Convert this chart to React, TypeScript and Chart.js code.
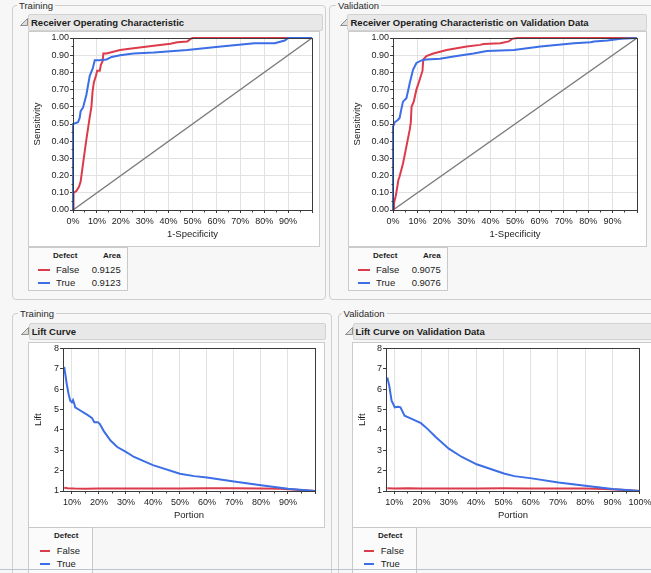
import React, { useEffect, useRef } from 'react';
import { Chart, registerables } from 'chart.js';

Chart.register(...registerables);

const RED = '#dc3b4b';
const BLUE = '#3c6ee6';
const DIAG = '#7b7b7b';
const GRID = '#e2e2e2';
const AXIS = '#3a3a3a';
const TXT = '#1c1c1c';
const BG = '#f7f7f7';
const FONT = '"Liberation Sans", Arial, Helvetica, sans-serif';

// ---- tick values ----
const rocTicks = [0, 0.1, 0.2, 0.3, 0.4, 0.5, 0.6, 0.7, 0.8, 0.9, 1];
const liftXTicks = [0.1, 0.2, 0.3, 0.4, 0.5, 0.6, 0.7, 0.8, 0.9, 1];
const liftYTicks = [1, 2, 3, 4, 5, 6, 7, 8];

// ---- legend ----
const classes = ['False', 'True'];
const trainArea = ['0.9125', '0.9123'];
const validArea = ['0.9075', '0.9076'];

// ---- reference diagonal ----
const diagX = [0, 1];
const diagY = [0, 1];

// ---- Training ROC ----
const trRocFalseX = [0, 0.002, 0.014, 0.025, 0.032, 0.042, 0.056, 0.07, 0.077, 0.082, 0.087, 0.096, 0.101, 0.112, 0.117, 0.124, 0.127, 0.14, 0.197, 0.253, 0.338, 0.408, 0.436, 0.478, 0.492, 0.5, 1.0];
const trRocFalseY = [0, 0.1, 0.11, 0.135, 0.165, 0.27, 0.41, 0.54, 0.6, 0.69, 0.74, 0.78, 0.81, 0.81, 0.845, 0.865, 0.91, 0.91, 0.93, 0.94, 0.955, 0.967, 0.975, 0.98, 0.995, 1.0, 1.0];
const trRocTrueX = [0, 0, 0.021, 0.028, 0.032, 0.042, 0.056, 0.07, 0.082, 0.091, 0.112, 0.14, 0.162, 0.197, 0.253, 0.338, 0.478, 0.619, 0.759, 0.844, 0.886, 0.9, 1.0];
const trRocTrueY = [0, 0.5, 0.51, 0.535, 0.575, 0.595, 0.67, 0.78, 0.82, 0.87, 0.87, 0.875, 0.89, 0.9, 0.91, 0.915, 0.93, 0.95, 0.97, 0.97, 0.985, 1.0, 1.0];

// ---- Validation ROC ----
const vaRocFalseX = [0, 0.004, 0.011, 0.016, 0.022, 0.027, 0.041, 0.055, 0.069, 0.073, 0.076, 0.085, 0.096, 0.11, 0.121, 0.124, 0.137, 0.165, 0.22, 0.302, 0.357, 0.371, 0.44, 0.474, 0.488, 0.508, 1.0];
const vaRocFalseY = [0, 0.04, 0.08, 0.12, 0.175, 0.195, 0.27, 0.37, 0.47, 0.51, 0.6, 0.63, 0.7, 0.76, 0.81, 0.875, 0.895, 0.91, 0.93, 0.95, 0.96, 0.965, 0.97, 0.98, 0.995, 1.0, 1.0];
const vaRocTrueX = [0, 0, 0.007, 0.021, 0.027, 0.034, 0.041, 0.055, 0.069, 0.082, 0.096, 0.117, 0.137, 0.192, 0.261, 0.33, 0.385, 0.495, 0.604, 0.742, 0.81, 0.824, 0.879, 0.934, 1.0];
const vaRocTrueY = [0, 0.485, 0.51, 0.525, 0.535, 0.585, 0.63, 0.65, 0.74, 0.815, 0.855, 0.87, 0.875, 0.88, 0.895, 0.91, 0.925, 0.93, 0.95, 0.97, 0.975, 0.98, 0.985, 0.995, 1.0];

// ---- Training lift ----
const trLiftTrueX = [0.0715, 0.081, 0.0876, 0.0938, 0.1, 0.104, 0.109, 0.112, 0.125, 0.156, 0.174, 0.183, 0.196, 0.203, 0.218, 0.243, 0.268, 0.3, 0.33, 0.4, 0.5, 0.553, 0.6, 0.7, 0.8, 0.9, 1.0];
const trLiftTrueY = [7.09, 6.24, 5.76, 5.43, 5.35, 5.46, 5.27, 5.11, 5.0, 4.75, 4.59, 4.38, 4.38, 4.3, 3.94, 3.48, 3.16, 2.92, 2.67, 2.27, 1.85, 1.73, 1.66, 1.47, 1.28, 1.11, 1.0];
const trLiftFalseX = [0.0715, 0.085, 0.11, 0.15, 0.2, 0.3, 0.4, 0.5, 0.6, 0.7, 0.8, 0.87, 0.93, 1.0];
const trLiftFalseY = [1.16, 1.14, 1.12, 1.11, 1.12, 1.12, 1.12, 1.12, 1.13, 1.13, 1.12, 1.11, 1.06, 1.0];

// ---- Validation lift ----
const vaLiftTrueX = [0.0748, 0.082, 0.0904, 0.0964, 0.102, 0.114, 0.123, 0.132, 0.138, 0.156, 0.198, 0.222, 0.252, 0.3, 0.348, 0.402, 0.502, 0.54, 0.604, 0.702, 0.8, 0.9, 1.0];
const vaLiftTrueY = [6.57, 6.16, 5.43, 5.27, 5.11, 5.14, 5.11, 4.86, 4.7, 4.59, 4.33, 4.05, 3.65, 3.08, 2.67, 2.31, 1.86, 1.73, 1.62, 1.42, 1.26, 1.1, 1.0];
const vaLiftFalseX = [0.0748, 0.1, 0.15, 0.2, 0.3, 0.4, 0.5, 0.6, 0.7, 0.8, 0.87, 0.93, 1.0];
const vaLiftFalseY = [1.13, 1.12, 1.13, 1.12, 1.12, 1.12, 1.13, 1.12, 1.12, 1.12, 1.1, 1.06, 1.0];

const pct = (v: number) => Math.round(v * 100) + '%';
const pctNo100 = (v: number) => (v >= 0.999 ? '' : pct(v));
const fix2 = (v: number) => v.toFixed(2);
const int = (v: number) => String(Math.round(v));

const frameBox = {
  id: 'frameBox',
  afterDatasetsDraw(chart: any, _a: any, opts: any) {
    const { ctx, chartArea: a, scales } = chart;
    const al = (p: number) => Math.round(p - 0.5) + 0.5;
    const l = al(a.left), r = al(a.right), t = al(a.top), b = al(a.bottom);
    ctx.save();
    ctx.strokeStyle = AXIS;
    ctx.lineWidth = 1;
    ctx.beginPath();
    const minor = (id: string, step?: number) => {
      if (!step) return;
      const sc = scales[id];
      const k0 = Math.ceil(sc.min / step - 1e-6);
      const k1 = Math.floor(sc.max / step + 1e-6);
      for (let k = k0; k <= k1; k++) {
        const v = k * step;
        if (sc.ticks.some((tk: any) => Math.abs(tk.value - v) < 1e-6)) continue;
        const p = al(sc.getPixelForValue(v));
        if (id === 'x') { ctx.moveTo(p, b); ctx.lineTo(p, b + 2); }
        else { ctx.moveTo(l, p); ctx.lineTo(l - 2, p); }
      }
    };
    minor('x', opts && opts.xMinor);
    minor('y', opts && opts.yMinor);
    ctx.stroke();
    ctx.strokeRect(l, t, r - l, b - t);
    ctx.restore();
  },
};

type Series = { x: number[]; y: number[]; color: string; width: number };
type Spec = {
  left: number; top: number; w: number; h: number;
  plot: { l: number; t: number; r: number; b: number };
  series: Series[];
  xMin: number; xMax: number; yMin: number; yMax: number;
  xTicks: number[]; yTicks: number[];
  xFmt: (v: number) => string; yFmt: (v: number) => string;
  xTitle: string; yTitle: string;
  xTitlePad: number; yTitlePad: number;
  hGrid: boolean; xMinor?: number; yMinor?: number;
};

function PlotCanvas({ spec }: { spec: Spec }) {
  const ref = useRef<HTMLCanvasElement>(null);
  useEffect(() => {
    const s = spec;
    const tickFont = { family: FONT, size: 9 };
    const titleFont = { family: FONT, size: 9.5 };
    const chart = new Chart(ref.current as HTMLCanvasElement, {
      type: 'scatter',
      data: {
        datasets: s.series.map((se) => ({
          data: se.x.map((x, i) => ({ x, y: se.y[i] })),
          showLine: true,
          borderColor: se.color,
          backgroundColor: se.color,
          borderWidth: se.width,
          pointRadius: 0,
          pointHoverRadius: 0,
          tension: 0,
          fill: false,
          clip: 4,
        })),
      },
      options: {
        animation: false,
        responsive: false,
        maintainAspectRatio: false,
        events: [],
        layout: { padding: { left: 0, top: s.plot.t, right: s.w - s.plot.r, bottom: 0 } },
        plugins: {
          legend: { display: false },
          tooltip: { enabled: false },
          frameBox: { xMinor: s.xMinor, yMinor: s.yMinor },
        } as any,
        scales: {
          x: {
            type: 'linear',
            position: 'bottom',
            min: s.xMin,
            max: s.xMax,
            afterBuildTicks: (sc: any) => { sc.ticks = s.xTicks.map((v) => ({ value: v })); },
            afterFit: (sc: any) => { sc.height = s.h - s.plot.b; },
            grid: { display: true, drawOnChartArea: true, color: GRID, tickColor: AXIS, tickLength: 3, lineWidth: 1 },
            border: { display: false },
            ticks: { callback: (v: any) => s.xFmt(Number(v)), font: tickFont, color: TXT, padding: 3.6, maxRotation: 0, minRotation: 0, autoSkip: false },
            title: { display: true, text: s.xTitle, font: titleFont, color: TXT, padding: { top: 0, bottom: s.xTitlePad } },
          },
          y: {
            type: 'linear',
            position: 'left',
            min: s.yMin,
            max: s.yMax,
            afterBuildTicks: (sc: any) => { sc.ticks = s.yTicks.map((v) => ({ value: v })); },
            afterFit: (sc: any) => { sc.width = s.plot.l; },
            grid: { display: true, drawOnChartArea: s.hGrid, color: GRID, tickColor: AXIS, tickLength: 3, lineWidth: 1 },
            border: { display: false },
            ticks: { callback: (v: any) => s.yFmt(Number(v)), font: tickFont, color: TXT, padding: 1, autoSkip: false },
            title: { display: true, text: s.yTitle, font: titleFont, color: TXT, padding: { top: s.yTitlePad, bottom: 0 } },
          },
        },
      } as any,
      plugins: [frameBox],
    });
    return () => chart.destroy();
  }, []);
  return (
    <canvas
      ref={ref}
      width={spec.w}
      height={spec.h}
      style={{ position: 'absolute', left: spec.left, top: spec.top, width: spec.w, height: spec.h }}
    />
  );
}

const rocSeries = (fx: number[], fy: number[], tx: number[], ty: number[]): Series[] => [
  { x: tx, y: ty, color: BLUE, width: 2 },
  { x: fx, y: fy, color: RED, width: 2 },
  { x: diagX, y: diagY, color: DIAG, width: 1.5 },
];
const liftSeries = (fx: number[], fy: number[], tx: number[], ty: number[]): Series[] => [
  { x: tx, y: ty, color: BLUE, width: 2 },
  { x: fx, y: fy, color: RED, width: 2 },
];

const specs: Spec[] = [
  {
    left: 28, top: 31, w: 290, h: 216,
    plot: { l: 45, t: 7, r: 284, b: 179 },
    series: rocSeries(trRocFalseX, trRocFalseY, trRocTrueX, trRocTrueY),
    xMin: 0, xMax: 1, yMin: 0, yMax: 1,
    xTicks: rocTicks, yTicks: rocTicks,
    xFmt: pctNo100, yFmt: fix2,
    xTitle: '1-Specificity', yTitle: 'Sensitivity',
    xTitlePad: 6.6, yTitlePad: 3.3, hGrid: true, xMinor: 0.05, yMinor: 0.05,
  },
  {
    left: 348, top: 31, w: 299, h: 216,
    plot: { l: 45, t: 7, r: 289, b: 179 },
    series: rocSeries(vaRocFalseX, vaRocFalseY, vaRocTrueX, vaRocTrueY),
    xMin: 0, xMax: 1, yMin: 0, yMax: 1,
    xTicks: rocTicks, yTicks: rocTicks,
    xFmt: pctNo100, yFmt: fix2,
    xTitle: '1-Specificity', yTitle: 'Sensitivity',
    xTitlePad: 6.6, yTitlePad: 3.3, hGrid: true, xMinor: 0.05, yMinor: 0.05,
  },
  {
    left: 28, top: 342, w: 297, h: 185,
    plot: { l: 35, t: 5, r: 287, b: 149 },
    series: liftSeries(trLiftFalseX, trLiftFalseY, trLiftTrueX, trLiftTrueY),
    xMin: 0.067, xMax: 1, yMin: 1, yMax: 8,
    xTicks: liftXTicks, yTicks: liftYTicks,
    xFmt: pctNo100, yFmt: int,
    xTitle: 'Portion', yTitle: 'Lift',
    xTitlePad: 6, yTitlePad: 4.9, hGrid: false, xMinor: 0.05,
  },
  {
    left: 352, top: 342, w: 303, h: 185,
    plot: { l: 34, t: 5, r: 293, b: 149 },
    series: liftSeries(vaLiftFalseX, vaLiftFalseY, vaLiftTrueX, vaLiftTrueY),
    xMin: 0.07, xMax: 1, yMin: 1, yMax: 8,
    xTicks: liftXTicks, yTicks: liftYTicks,
    xFmt: pct, yFmt: int,
    xTitle: 'Portion', yTitle: 'Lift',
    xTitlePad: 6, yTitlePad: 4.3, hGrid: false, xMinor: 0.05,
  },
];

function Txt({ x, cy, children, bold, size, right }: any) {
  const style: any = {
    position: 'absolute', top: cy - 6, lineHeight: '12px', fontSize: size,
    fontWeight: bold ? 700 : 400, whiteSpace: 'nowrap', color: TXT,
  };
  if (right) { style.left = x - 100; style.width = 100; style.textAlign = 'right'; }
  else style.left = x;
  return <div style={style}>{children}</div>;
}

function Box({ x, y, w, h, bg, border, radius }: any) {
  return (
    <div style={{
      position: 'absolute', left: x, top: y, width: w, height: h, boxSizing: 'border-box',
      border: `1px solid ${border}`, background: bg || 'transparent', borderRadius: radius || 0,
    }} />
  );
}

function Group({ x, y, w, h, label, lx, ly }: any) {
  return (
    <>
      <Box x={x} y={y} w={w} h={h} border="#cfcfcf" radius={4} />
      <div style={{
        position: 'absolute', left: lx - 2, top: ly - 6, lineHeight: '12px', padding: '0 2px',
        fontSize: 9.5, background: BG, color: '#2a2a2a', whiteSpace: 'nowrap',
      }}>{label}</div>
    </>
  );
}

function Header({ bx, by, bw, bh, tx, triX, triY, text }: any) {
  return (
    <>
      <svg style={{ position: 'absolute', left: triX, top: triY }} width={8} height={8}>
        <polygon points="0.5,7.5 7.5,7.5 7.5,0.5" fill="#dcdcdc" stroke="#8e8e8e" strokeWidth={1} />
      </svg>
      <div style={{
        position: 'absolute', left: bx, top: by, width: bw, height: bh, boxSizing: 'border-box',
        background: '#e8e8e8', border: '1px solid #d2d2d2', borderRadius: 2,
      }} />
      <Txt x={tx} cy={by + bh / 2} bold size={9.5}>{text}</Txt>
    </>
  );
}

function Swatch({ x, y, w, color }: any) {
  return <div style={{ position: 'absolute', left: x, top: y, width: w, height: 2, background: color }} />;
}

function RocLegend({ x, y, areas }: any) {
  return (
    <>
      <Box x={x} y={y} w={100} h={44} border="#c9c9c9" bg="#fbfbfb" />
      <Txt x={x + 25} cy={y + 8.5} bold size={8}>Defect</Txt>
      <Txt x={x + 92.7} cy={y + 8.5} bold size={8} right>Area</Txt>
      <Swatch x={x + 10} y={y + 21.5} w={12} color={RED} />
      <Txt x={x + 28} cy={y + 23} size={9.5}>{classes[0]}</Txt>
      <Txt x={x + 92.7} cy={y + 23} size={9.5} right>{areas[0]}</Txt>
      <Swatch x={x + 10} y={y + 34.8} w={12} color={BLUE} />
      <Txt x={x + 28} cy={y + 36} size={9.5}>{classes[1]}</Txt>
      <Txt x={x + 92.7} cy={y + 36} size={9.5} right>{areas[1]}</Txt>
    </>
  );
}

function LiftLegend({ x, y }: any) {
  return (
    <>
      <Box x={x} y={y} w={65} h={60} border="#c9c9c9" bg="#fbfbfb" />
      <Txt x={x + 26} cy={y + 9} bold size={8}>Defect</Txt>
      <Swatch x={x + 12} y={y + 23} w={10} color={RED} />
      <Txt x={x + 28.7} cy={y + 24} size={9.5}>{classes[0]}</Txt>
      <Swatch x={x + 12} y={y + 35.7} w={10} color={BLUE} />
      <Txt x={x + 28.7} cy={y + 37} size={9.5}>{classes[1]}</Txt>
    </>
  );
}

export default function App() {
  return (
    <div style={{
      position: 'absolute', left: 0, top: 0, width: 651, height: 573, overflow: 'hidden',
      background: BG, fontFamily: FONT,
    }}>
      {/* group boxes */}
      <Group x={12} y={5} w={314} h={295} label="Training" lx={19} ly={6} />
      <Group x={329} y={5} w={340} h={295} label="Validation" lx={338} ly={6} />
      <Group x={12} y={313} w={320} h={300} label="Training" lx={20} ly={313.5} />
      <Group x={338} y={313} w={340} h={300} label="Validation" lx={343.5} ly={313.5} />

      {/* headers */}
      <Header bx={28} by={14} bw={295} bh={17} tx={31} triX={19.5} triY={18} text="Receiver Operating Characteristic" />
      <Header bx={347} by={14} bw={300} bh={17} tx={350.5} triX={339.5} triY={18} text="Receiver Operating Characteristic on Validation Data" />
      <Header bx={29} by={323} bw={297} bh={17} tx={31.7} triX={20.5} triY={327} text="Lift Curve" />
      <Header bx={353} by={323} bw={310} bh={17} tx={355.5} triX={344.5} triY={327} text="Lift Curve on Validation Data" />

      {/* plot frames */}
      <Box x={28} y={31} w={292} h={216} border="#cbcbcb" bg="#ffffff" />
      <Box x={348} y={31} w={299} h={216} border="#cbcbcb" bg="#ffffff" />
      <Box x={28} y={342} w={297} h={186} border="#cbcbcb" bg="#ffffff" />
      <Box x={352} y={342} w={310} h={186} border="#cbcbcb" bg="#ffffff" />

      {specs.map((s, i) => <PlotCanvas key={i} spec={s} />)}

      {/* legends */}
      <RocLegend x={28} y={247} areas={trainArea} />
      <RocLegend x={348} y={247} areas={validArea} />
      <LiftLegend x={28} y={527} />
      <LiftLegend x={352} y={527} />

      <div style={{ position: 'absolute', left: 0, top: 569, width: 651, height: 1, background: '#bcc4d4' }} />
    </div>
  );
}
